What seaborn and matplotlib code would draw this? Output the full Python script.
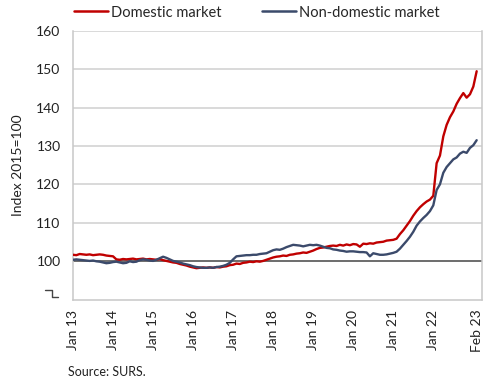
import numpy as np
import pandas as pd
import matplotlib
matplotlib.use("Agg")
import matplotlib.pyplot as plt
from matplotlib.lines import Line2D
import seaborn as sns

# ---- data (monthly, Jan 2013 .. Feb 2023) ----
domestic = [
    101.6, 101.5, 101.8, 101.7, 101.6, 101.7, 101.5, 101.6, 101.7, 101.6, 101.4, 101.3,  # 2013
    101.2, 100.4, 100.3, 100.5, 100.4, 100.5, 100.6, 100.4, 100.5, 100.6, 100.4, 100.5,  # 2014
    100.4, 100.3, 100.5, 100.2, 100.0, 99.8, 99.6, 99.5, 99.2, 99.0, 98.8, 98.5,          # 2015
    98.3, 98.1, 98.2, 98.3, 98.2, 98.3, 98.2, 98.4, 98.3, 98.5, 98.6, 98.9,               # 2016
    99.0, 99.3, 99.2, 99.5, 99.6, 99.8, 99.7, 99.9, 99.8, 100.0, 100.3, 100.6,            # 2017
    100.9, 101.1, 101.2, 101.4, 101.3, 101.6, 101.7, 101.9, 102.0, 102.2, 102.1, 102.4,   # 2018
    102.7, 103.1, 103.4, 103.5, 103.7, 103.9, 104.0, 103.9, 104.2, 104.0, 104.3, 104.1,   # 2019
    104.4, 104.3, 103.7, 104.5, 104.4, 104.6, 104.5, 104.8, 104.9, 105.0, 105.3, 105.4,   # 2020
    105.5, 105.8, 107.0, 108.0, 109.2, 110.4, 111.8, 113.0, 114.0, 114.8, 115.5, 116.0,   # 2021
    117.0, 125.5, 127.5, 132.5, 135.5, 137.5, 139.0, 141.0, 142.5, 143.8, 142.6, 143.5,   # 2022
    145.5, 149.5,                                                                         # 2023
]
non_domestic = [
    100.3, 100.4, 100.3, 100.2, 100.1, 100.0, 100.1, 99.9, 99.8, 99.6, 99.4, 99.5,        # 2013
    99.7, 99.8, 99.6, 99.4, 99.5, 99.9, 99.7, 99.8, 100.2, 100.4, 100.3, 100.1,           # 2014
    100.0, 100.3, 100.7, 101.1, 100.8, 100.4, 100.0, 99.8, 99.6, 99.3, 99.1, 98.9,        # 2015
    98.6, 98.4, 98.3, 98.2, 98.2, 98.3, 98.2, 98.4, 98.5, 98.7, 99.0, 99.5,               # 2016
    100.4, 101.2, 101.3, 101.4, 101.5, 101.5, 101.6, 101.6, 101.8, 101.9, 102.0, 102.4,   # 2017
    102.8, 103.0, 102.9, 103.2, 103.6, 103.9, 104.2, 104.1, 104.0, 103.8, 104.0, 104.2,   # 2018
    104.1, 104.2, 104.0, 103.7, 103.4, 103.3, 103.0, 102.9, 102.7, 102.6, 102.4, 102.5,   # 2019
    102.5, 102.4, 102.3, 102.3, 102.2, 101.2, 102.0, 101.8, 101.6, 101.6, 101.7, 101.9,   # 2020
    102.1, 102.4, 103.2, 104.2, 105.2, 106.3, 107.6, 109.2, 110.3, 111.2, 112.0, 113.0,   # 2021
    114.5, 118.5, 120.0, 123.0, 124.5, 125.5, 126.5, 127.0, 128.0, 128.5, 128.2, 129.5,   # 2022
    130.2, 131.5,                                                                         # 2023
]
series_names = ["Domestic market", "Non-domestic market"]
tick_months = [0, 12, 24, 36, 48, 60, 72, 84, 96, 108, 121]
tick_labels = ["Jan 13", "Jan 14", "Jan 15", "Jan 16", "Jan 17", "Jan 18",
               "Jan 19", "Jan 20", "Jan 21", "Jan 22", "Feb 23"]
y_ticks = [100, 110, 120, 130, 140, 150, 160]
baseline = 100

months = np.arange(len(domestic))
df = pd.DataFrame({
    "month": np.concatenate([months, months]),
    "value": domestic + non_domestic,
    "series": [series_names[0]] * len(domestic) + [series_names[1]] * len(non_domestic),
})

sns.set_theme(style="white")
plt.rcParams["font.family"] = ["Lato", "DejaVu Sans"]

colors = {series_names[0]: "#C00000", series_names[1]: "#3B4A6B"}

fig = plt.figure(figsize=(4.9, 3.81), dpi=100)
ax = fig.add_axes([73 / 490, 1 - 300 / 381, 409 / 490, 269 / 381])

for yv in y_ticks:
    ax.axhline(yv, color="#cfcfcf", lw=1.1, zorder=0)
ax.axhline(baseline, color="#6e6e6e", lw=1.4, zorder=1)

sns.lineplot(data=df, x="month", y="value", hue="series", palette=colors,
             linewidth=1.7, ax=ax, legend=False, zorder=3)

ax.set_xlim(0, 122.6)
ax.set_ylim(89.8, 160)
ax.set_yticks(y_ticks)
ax.set_yticklabels([str(v) for v in y_ticks], fontsize=10, color="#222222")
ax.set_xticks(tick_months)
ax.set_xticklabels(tick_labels, rotation=90, fontsize=10, color="#222222")
ax.tick_params(axis="x", length=4, width=1, color="#bfbfbf", pad=3)
ax.tick_params(axis="y", length=0, pad=9)
ax.set_xlabel("")
ax.set_ylabel("Index 2015=100", fontsize=10, color="#222222", labelpad=9)

for side in ["left", "bottom", "right"]:
    ax.spines[side].set_color("#c8c8c8")
    ax.spines[side].set_linewidth(1.1)
ax.spines["top"].set_visible(False)

# axis-break symbol below the 100 label
brk = Line2D([-0.0685, -0.0513, -0.0513, -0.0367], [0.037, 0.037, 0.011, 0.011],
             transform=ax.transAxes, color="#444444", lw=1.0, clip_on=False)
ax.add_line(brk)

handles = [Line2D([0], [0], color=colors[n], lw=1.8) for n in series_names]
fig.legend(handles, series_names, loc="upper left", bbox_to_anchor=(0.125, 1.02),
           ncol=2, frameon=False, fontsize=10.5, handlelength=2.3,
           handletextpad=0.2, columnspacing=2.8)

fig.text(68 / 490, 1 - 372 / 381, "Source: SURS.", fontsize=9, color="#222222",
         va="center", ha="left")

fig.savefig("out.png", dpi=100)
